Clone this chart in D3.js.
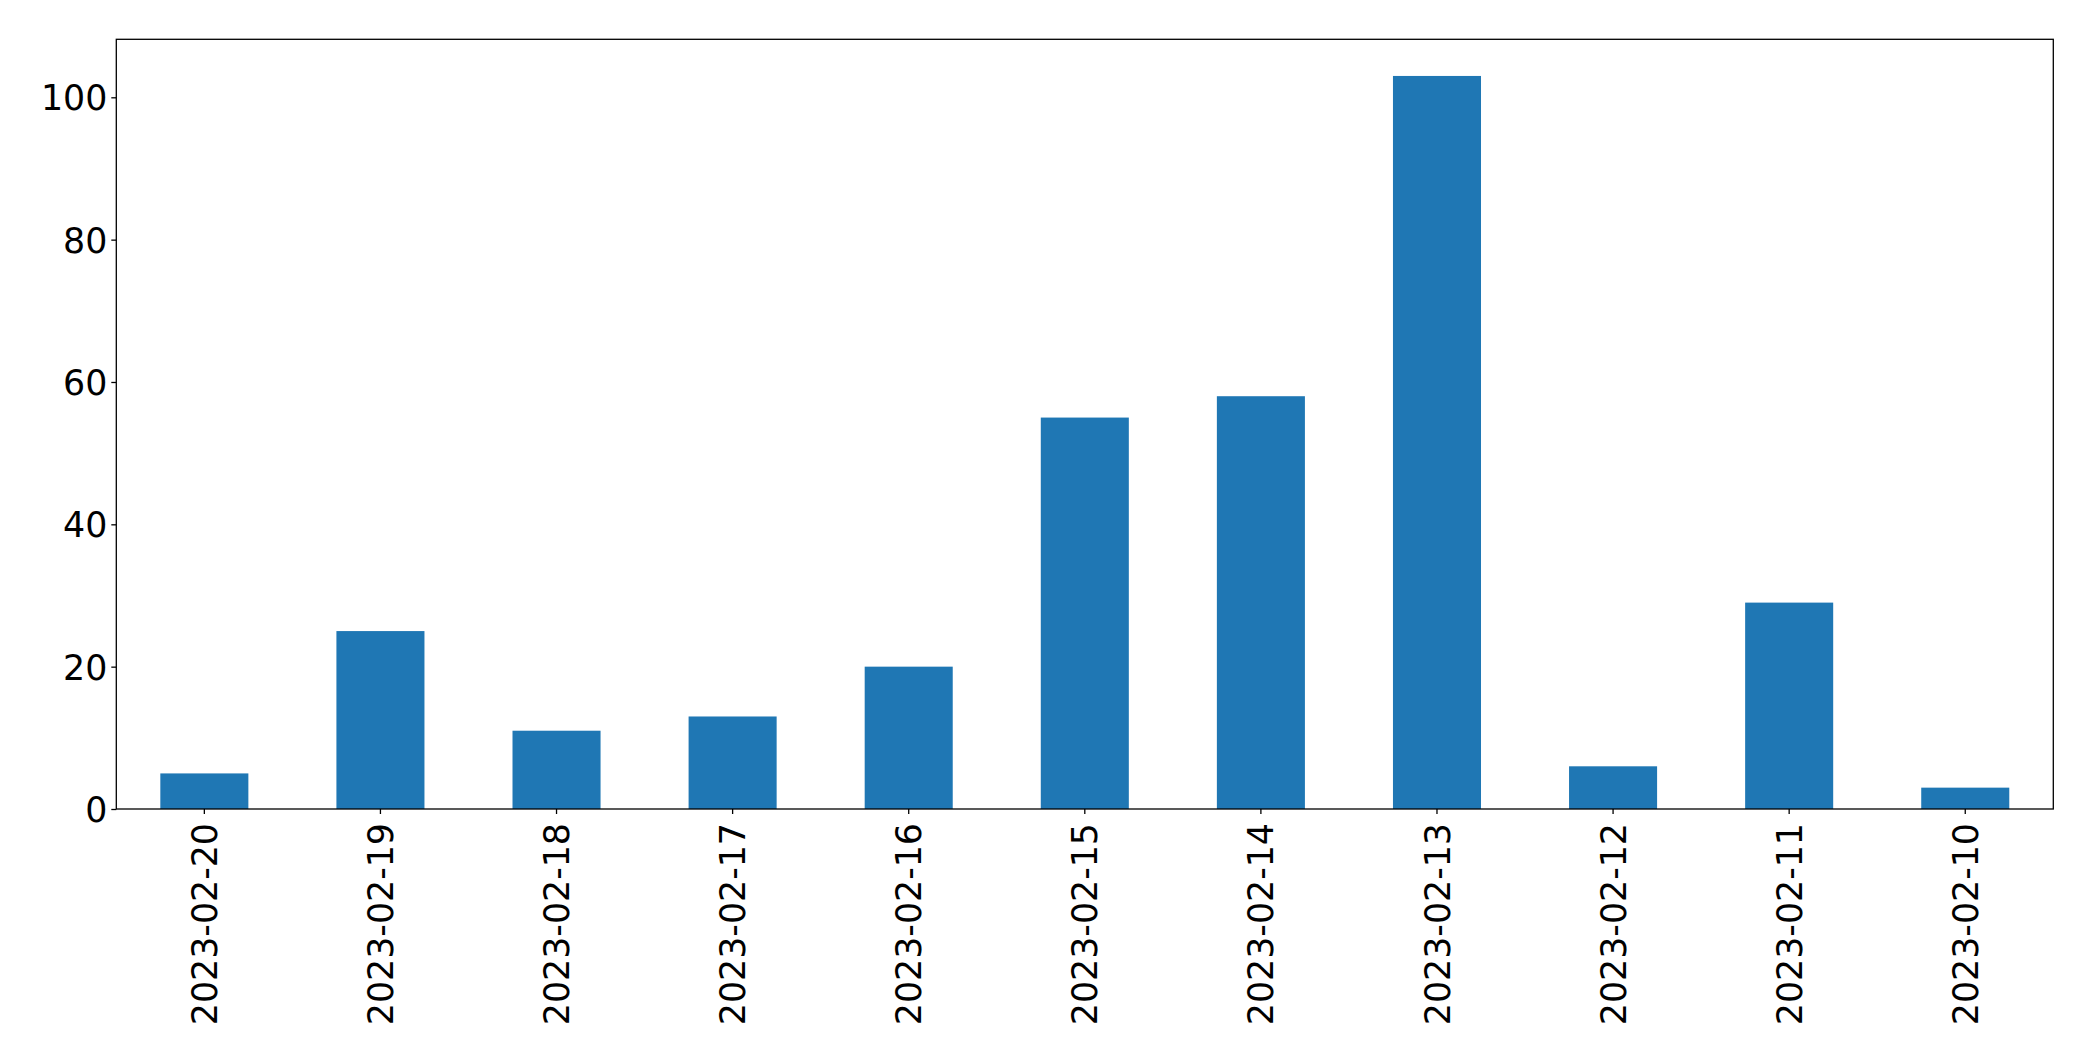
<!DOCTYPE html>
<html>
<head>
<meta charset="UTF-8">
<title>Daily counts</title>
<script src="https://d3js.org/d3.v7.min.js"></script>
<style>
    body { margin: 0; background: #fff; }
    svg { display: block; }
    .tick text { font-family: "DejaVu Sans", sans-serif; font-size: 34.8px; fill: #000; }
</style>
</head>
<body>
<div id="chart"></div>
<script>
// data
const dates = ["2023-02-20", "2023-02-19", "2023-02-18", "2023-02-17", "2023-02-16", "2023-02-15",
               "2023-02-14", "2023-02-13", "2023-02-12", "2023-02-11", "2023-02-10"];
const counts = [5, 25, 11, 13, 20, 55, 58, 103, 6, 29, 3];
const yTicks = [0, 20, 40, 60, 80, 100];

const width = 2093, height = 1061;
const margin = {top: 39.3, right: 2093 - 2053.3, bottom: 1061 - 809, left: 116.3};
const innerW = width - margin.left - margin.right;
const innerH = height - margin.top - margin.bottom;

const svg = d3.select("#chart").append("svg")
    .attr("width", width)
    .attr("height", height);

const g = svg.append("g").attr("transform", `translate(${margin.left},${margin.top})`);

// band scale: step = innerW/11, bar is half a step wide
const x = d3.scaleBand().domain(dates).range([0, innerW]).paddingInner(0.5).paddingOuter(0.25);
const y = d3.scaleLinear().domain([0, d3.max(counts) * 1.05]).range([innerH, 0]);

g.selectAll(".bar")
    .data(dates)
    .enter()
    .append("rect")
    .attr("class", "bar")
    .attr("x", d => x(d))
    .attr("width", x.bandwidth())
    .attr("y", (d, i) => y(counts[i]))
    .attr("height", (d, i) => innerH - y(counts[i]))
    .attr("fill", "#1f77b4");

// y axis
const yAxis = g.append("g")
    .call(d3.axisLeft(y).tickValues(yTicks).tickSize(5).tickPadding(4));
yAxis.select(".domain").remove();
yAxis.selectAll(".tick line").attr("stroke", "#000").attr("stroke-width", 1.3);
yAxis.selectAll(".tick text").attr("dy", "0.36em");

// x axis with rotated labels
const xAxis = g.append("g")
    .attr("transform", `translate(0,${innerH})`)
    .call(d3.axisBottom(x).tickSize(5).tickPadding(0));
xAxis.select(".domain").remove();
xAxis.selectAll(".tick line").attr("stroke", "#000").attr("stroke-width", 1.3);
xAxis.selectAll(".tick text")
    .attr("transform", "rotate(-90)")
    .attr("text-anchor", "end")
    .attr("x", -14)
    .attr("y", 0)
    .attr("dy", "0.36em");

// frame
g.append("rect")
    .attr("width", innerW)
    .attr("height", innerH)
    .attr("fill", "none")
    .attr("stroke", "#000")
    .attr("stroke-width", 1.3);
</script>
</body>
</html>
